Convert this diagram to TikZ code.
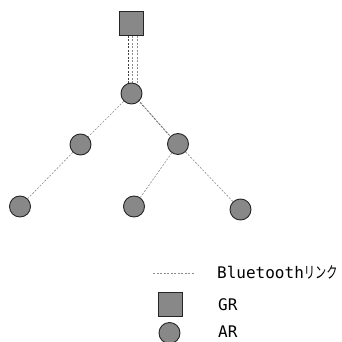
\documentclass[tikz,border=0pt]{standalone}
\usepackage{fontspec}
\setmainfont{DejaVu Sans Mono}
\newfontfamily\jpfont{Noto Sans CJK JP}
\begin{document}
\begin{tikzpicture}[x=1pt,y=-1pt,
  ar/.style={circle,draw=black!85,line width=0.9pt,fill=nodegray,minimum size=21pt,inner sep=0pt},
  gr/.style={rectangle,draw=black!85,line width=0.9pt,fill=nodegray,minimum size=24pt,inner sep=0pt},
  btdark/.style={draw=black!75,line width=0.6pt,dash pattern=on 2pt off 1.5pt},
  btlight/.style={draw=black!45,line width=0.6pt,dash pattern=on 2pt off 1.5pt},
  lbl/.style={anchor=west,font=\fontsize{16}{16}\selectfont,inner sep=0pt}]
\definecolor{nodegray}{HTML}{888888}
\useasboundingbox (0,0) rectangle (342,342);
% links
\coordinate (g1) at (128,36);
\coordinate (g2) at (132.5,36);
\coordinate (g3) at (137,36);
\coordinate (r1) at (128,84);
\coordinate (r2) at (132.5,84);
\coordinate (r3) at (137,84);
\draw[btdark] (g1) -- (r1);
\draw[btlight] (g2) -- (r2);
\draw[btlight] (g3) -- (r3);
\node[ar] (root) at (131.5,93.5) {};
\node[ar] (m1) at (80.5,144.5) {};
\node[ar] (m2) at (178,144) {};
\node[ar] (b1) at (20,206.5) {};
\node[ar] (b2) at (134,206.5) {};
\node[ar] (b3) at (240.5,209.5) {};
\node[gr] (gr) at (131.5,23.5) {};
\draw[btlight] (root) -- (m1);
\draw[btdark] ([xshift=-1.5pt,yshift=1.5pt]root.-45) -- ([xshift=-1.5pt,yshift=1.5pt]m2.135);
\draw[btlight] ([xshift=1.5pt,yshift=-1.5pt]root.-45) -- ([xshift=1.5pt,yshift=-1.5pt]m2.135);
\draw[btlight] (m1) -- (b1);
\draw[btlight] (m2) -- (b2);
\draw[btlight] (m2) -- (b3);
% legend
\coordinate (l1) at (153,273);
\coordinate (l2) at (195,273);
\draw[btlight] (l1) -- (l2);
\node[lbl] (t1) at (217,272) {Bluetooth\scalebox{0.7}[1]{\jpfont リンク}};
\node[gr] (lg) at (170,304.5) {};
\node[lbl] (t2) at (218,305) {GR};
\node[ar] (la) at (169.5,333) {};
\node[lbl] (t3) at (218,331.5) {AR};
\end{tikzpicture}
\end{document}
